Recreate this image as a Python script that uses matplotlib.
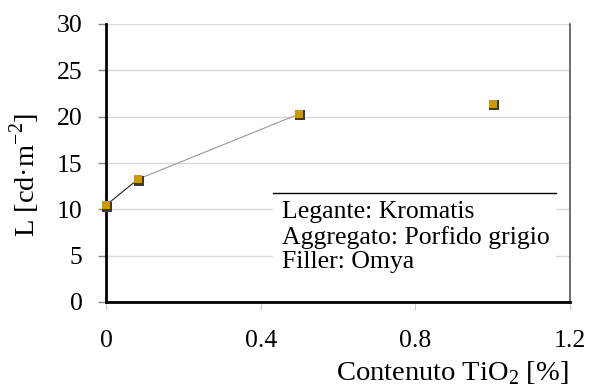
import matplotlib.pyplot as plt
from matplotlib.patches import Rectangle
from matplotlib.lines import Line2D

# TiO2 content [%] and luminance L [cd/m2]
tio2 = [0.0, 0.083, 0.5, 1.0]
lum = [10.45, 13.25, 20.3, 21.4]

y_ticks = [0, 5, 10, 15, 20, 25, 30]
x_ticks = [0, 0.4, 0.8, 1.2]
x_tick_labels = ["0", "0.4", "0.8", "1.2"]
info_lines = ["Legante: Kromatis", "Aggregato: Porfido grigio", "Filler: Omya"]

plt.rcParams['font.family'] = ['Liberation Serif', 'DejaVu Serif']
plt.rcParams['mathtext.fontset'] = 'custom'
plt.rcParams['mathtext.rm'] = 'Liberation Serif'

FS = 18.5
FS_TITLE = 20.5

fig = plt.figure(figsize=(5.91, 3.89), dpi=100)
ax = fig.add_axes([106 / 591, 1 - 302 / 389, (570 - 106) / 591, (302 - 24) / 389])

ax.set_xlim(0, 1.2)
ax.set_ylim(0, 30)
ax.set_yticks(y_ticks)
ax.set_xticks(x_ticks)
ax.set_xticklabels(x_tick_labels)
ax.grid(axis='y', color='#d9d9d9', linewidth=1)
ax.set_axisbelow(True)

# connecting segments: first one dark, second one grey, none to the last point
ax.plot(tio2[:2], lum[:2], color='#222222', linewidth=0.8, zorder=2)
ax.plot(tio2[1:3], lum[1:3], color='#999999', linewidth=0.8, zorder=2)

# square markers with a small drop shadow
ax.plot([x + 0.003 for x in tio2], [y - 0.15 for y in lum], 's', color='#3a3a3a',
        markersize=6.5, markeredgewidth=0, zorder=3, clip_on=False)
ax.plot(tio2, lum, 's', color='#cc9900', markersize=6, markeredgewidth=0,
        zorder=4, clip_on=False)

ax.spines['top'].set_visible(False)
ax.spines['left'].set_linewidth(2)
ax.spines['bottom'].set_linewidth(2)
ax.spines['right'].set_linewidth(1.2)
ax.spines['right'].set_color('#555555')

ax.tick_params(axis='y', direction='out', length=6, width=1, color='#888888',
               labelsize=FS, pad=11)
ax.tick_params(axis='x', direction='out', length=6, width=0.8, color='#cccccc',
               labelsize=FS, pad=14)

# axis titles
fig.text(25 / 591, 1 - 175 / 389, 'L [cd·m$^{\\mathrm{-2}}$]', fontsize=FS_TITLE,
         rotation=90, ha='center', va='center')
fig.text(569 / 591, 1 - 373 / 389, 'Contenuto TiO$_{\\mathrm{2}}$ [%]',
         fontsize=FS_TITLE, ha='right', va='center')

# info box with a rule on top
box_left = (273 - 106) / (570 - 106) * 1.2
box_right = (556 - 106) / (570 - 106) * 1.2
ax.add_patch(Rectangle((box_left, 0.3), box_right - box_left, 11.8 - 0.3,
                       facecolor='white', edgecolor='none', zorder=1.5))
ax.add_line(Line2D([box_left, box_right], [11.8, 11.8], color='black',
                   linewidth=1, zorder=2))
for i, t in enumerate(info_lines):
    ax.text(box_left + 0.022, 9.7 - i * 2.7, t, fontsize=FS, va='center',
            ha='left', zorder=3)

fig.savefig('out.png', dpi=100)
